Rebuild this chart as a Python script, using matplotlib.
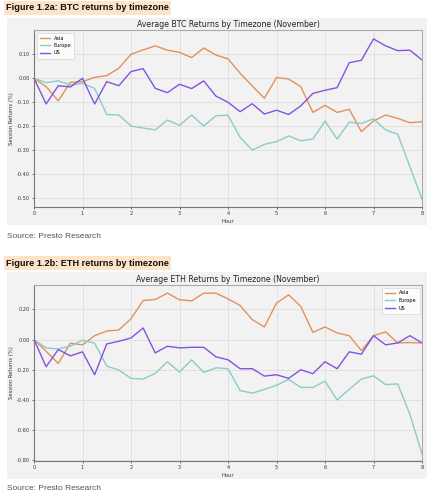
import matplotlib
matplotlib.use("Agg")
import matplotlib.pyplot as plt
from matplotlib.patches import Rectangle
import numpy as np

hours = [i * 0.25 for i in range(33)]

btc_asia = [0.0, -0.035, -0.094, -0.017, -0.014, 0.004, 0.011, 0.042, 0.100, 0.118, 0.135,
            0.117, 0.108, 0.086, 0.126, 0.097, 0.081, 0.021, -0.032, -0.083, 0.003, -0.003,
            -0.035, -0.142, -0.113, -0.142, -0.129, -0.222, -0.178, -0.153, -0.167, -0.185, -0.181]
btc_europe = [0.0, -0.018, -0.011, -0.028, -0.021, -0.042, -0.151, -0.153, -0.199, -0.207, -0.215,
              -0.174, -0.196, -0.153, -0.199, -0.156, -0.154, -0.246, -0.299, -0.275, -0.264, -0.240,
              -0.260, -0.253, -0.178, -0.253, -0.183, -0.188, -0.169, -0.215, -0.233, -0.368, -0.503]
btc_us = [0.0, -0.107, -0.031, -0.036, 0.0, -0.107, -0.014, -0.031, 0.028, 0.040, -0.042,
          -0.060, -0.025, -0.043, -0.011, -0.074, -0.100, -0.139, -0.106, -0.149, -0.133, -0.151,
          -0.115, -0.063, -0.050, -0.039, 0.065, 0.075, 0.164, 0.135, 0.115, 0.117, 0.076]

eth_asia = [0.0, -0.077, -0.158, -0.024, -0.035, 0.026, 0.057, 0.064, 0.138, 0.259, 0.266,
            0.308, 0.264, 0.257, 0.308, 0.308, 0.270, 0.226, 0.132, 0.084, 0.242, 0.297,
            0.220, 0.048, 0.084, 0.044, 0.026, -0.073, 0.026, 0.051, -0.022, -0.020, -0.022]
eth_europe = [0.0, -0.055, -0.062, -0.044, -0.004, -0.024, -0.176, -0.202, -0.257, -0.262, -0.224,
              -0.147, -0.215, -0.134, -0.218, -0.187, -0.193, -0.338, -0.355, -0.330, -0.303, -0.264,
              -0.317, -0.317, -0.275, -0.400, -0.330, -0.262, -0.240, -0.298, -0.294, -0.495, -0.758]
eth_us = [0.0, -0.180, -0.066, -0.108, -0.081, -0.233, -0.029, -0.011, 0.011, 0.077, -0.088,
          -0.044, -0.055, -0.051, -0.051, -0.114, -0.134, -0.193, -0.193, -0.242, -0.233, -0.257,
          -0.200, -0.226, -0.147, -0.193, -0.081, -0.097, 0.026, -0.035, -0.022, 0.026, -0.022]

series_names = ["Asia", "Europe", "US"]
colors = ["#e2915b", "#8ecaca", "#8453df"]

W, H = 437, 500
fig = plt.figure(figsize=(W / 100, H / 100), dpi=100)
fig.patch.set_facecolor("white")


def fx(px):
    return px / W


def fy(py):
    return 1 - py / H


def panel(y0, y1):
    fig.patches.append(Rectangle((fx(7), fy(y1)), fx(427) - fx(7), fy(y0) - fy(y1),
                                 transform=fig.transFigure, facecolor="#f2f2f2",
                                 edgecolor="none", zorder=-5))


def heading(text, yc):
    fig.text(fx(6), fy(yc), text, fontsize=6.6, fontweight="bold", va="center", ha="left",
             family=["Liberation Sans", "DejaVu Sans"], color="#111111",
             bbox=dict(boxstyle="square,pad=0.25", facecolor="#fde3c8", edgecolor="none"))


def source(yc):
    fig.text(fx(7), fy(yc), "Source: Presto Research", fontsize=6.0, va="center", ha="left",
             family=["Liberation Sans", "DejaVu Sans"], color="#555555")


def chart(top, bottom, data, title, yticks, ylim, legend_loc):
    ax = fig.add_axes([fx(34), fy(bottom), fx(422) - fx(34), fy(top) - fy(bottom)])
    ax.set_facecolor("#f2f2f2")
    for name, vals, c in zip(series_names, data, colors):
        ax.plot(hours, vals, color=c, lw=1.0, label=name)
    ax.set_xlim(0, 8)
    ax.set_ylim(*ylim)
    ax.set_xticks(range(9))
    ax.set_yticks(yticks)
    ax.set_yticklabels([f"{v:.2f}" for v in yticks])
    ax.tick_params(labelsize=3.6, length=1.5, width=0.5, pad=1.5, colors="#333333")
    ax.grid(True, color="#dddddd", lw=0.6)
    ax.set_axisbelow(True)
    for s in ["top", "right"]:
        ax.spines[s].set_color("#aaaaaa")
        ax.spines[s].set_linewidth(0.8)
    for s in ["left", "bottom"]:
        ax.spines[s].set_color("#777777")
        ax.spines[s].set_linewidth(0.8)
    ax.set_title(title, fontsize=5.6, pad=2.5, color="#222222")
    ax.set_xlabel("Hour", fontsize=3.8, labelpad=2, color="#333333")
    ax.set_ylabel("Session Returns (%)", fontsize=3.8, labelpad=2, color="#333333")
    leg = ax.legend(loc=legend_loc, fontsize=3.6, frameon=True, handlelength=2.0,
                    borderpad=0.6, labelspacing=0.5, fancybox=False)
    leg.get_frame().set_facecolor("white")
    leg.get_frame().set_edgecolor("#cccccc")
    leg.get_frame().set_linewidth(0.5)
    return ax


panel(18, 225)
heading("Figure 1.2a: BTC returns by timezone", 8)
chart(30, 207, [btc_asia, btc_europe, btc_us],
      "Average BTC Returns by Timezone (November)",
      [-0.5, -0.4, -0.3, -0.2, -0.1, 0.0, 0.1], (-0.536, 0.201), "upper left")
source(236)

panel(272, 479)
heading("Figure 1.2b: ETH returns by timezone", 263)
chart(285, 461, [eth_asia, eth_europe, eth_us],
      "Average ETH Returns by Timezone (November)",
      [-0.8, -0.6, -0.4, -0.2, 0.0, 0.2], (-0.805, 0.362), "upper right")
source(488)

fig.savefig("out.png", dpi=100)
